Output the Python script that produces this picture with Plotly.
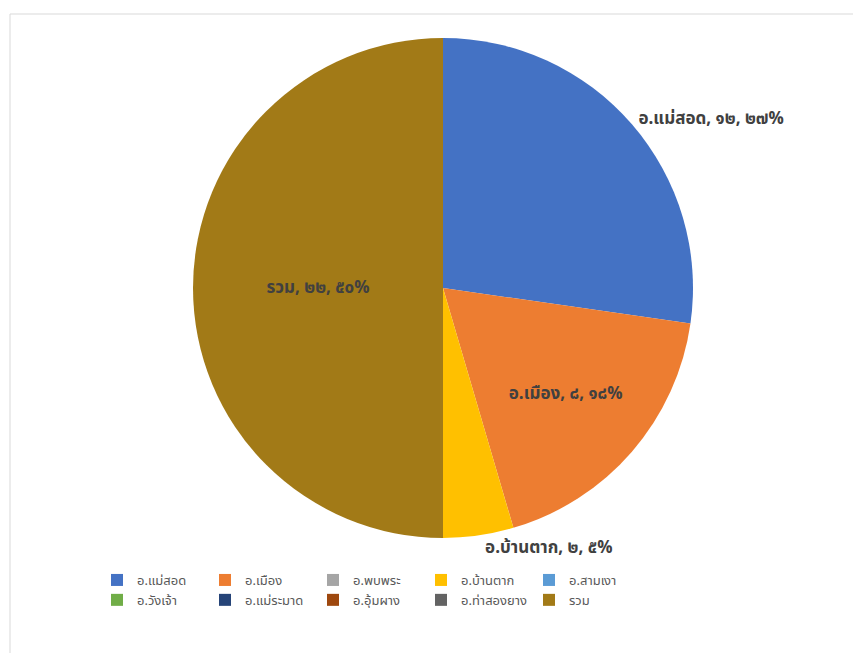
import plotly.graph_objects as go

labels = ["อ.แม่สอด", "อ.เมือง", "อ.พบพระ", "อ.บ้านตาก", "อ.สามเงา",
          "อ.วังเจ้า", "อ.แม่ระมาด", "อ.อุ้มผาง", "อ.ท่าสองยาง", "รวม"]
values = [12, 8, 0, 2, 0, 0, 0, 0, 0, 22]
colors = ["#4472C4", "#ED7D31", "#A5A5A5", "#FFC000", "#5B9BD5",
          "#70AD47", "#264478", "#9E480E", "#636363", "#A27A17"]
label_pos = ["outside", "inside", "none", "outside", "none",
             "none", "none", "none", "none", "inside"]

THAI_DIGITS = "๐๑๒๓๔๕๖๗๘๙"


def thai_num(n):
    return "".join(THAI_DIGITS[int(c)] for c in str(n))


total = sum(values)
texts = []
for lab, v in zip(labels, values):
    if v > 0:
        pct = int(v * 100 / total + 0.5)
        texts.append(f"<b>{lab}, {thai_num(v)}, {thai_num(pct)}%</b>")
    else:
        texts.append("")

W, H = 861, 653
ML, MR = 120, 141
PW = W - ML - MR
cx, cy, r = 435, 280, 250

fig = go.Figure(go.Pie(
    labels=labels,
    values=values,
    text=texts,
    textinfo="text",
    textposition=label_pos,
    insidetextorientation="horizontal",
    sort=False,
    direction="clockwise",
    rotation=0,
    marker=dict(colors=colors, line=dict(color="white", width=0)),
    textfont=dict(family="Noto Sans Thai, Noto Sans, sans-serif", size=17, color="#404040"),
    domain=dict(x=[(cx - r - ML) / PW, (cx + r - ML) / PW],
                y=[(H - (cy + r)) / H, (H - (cy - r)) / H]),
    hoverinfo="label+value+percent",
))

fig.update_layout(
    width=W, height=H,
    margin=dict(l=ML, r=MR, t=0, b=0, autoexpand=False),
    paper_bgcolor="white",
    showlegend=True,
    legend=dict(
        orientation="h",
        x=(359 - ML) / PW, xanchor="center",
        y=1 - 557 / H, yanchor="top",
        font=dict(family="Noto Sans Thai, Noto Sans, sans-serif", size=13, color="#595959"),
        entrywidth=63, entrywidthmode="pixels",
        traceorder="normal",
    ),
    shapes=[dict(type="rect", xref="paper", yref="paper",
                 x0=(2 - ML) / PW, x1=(W + 10 - ML) / PW, y0=-0.02, y1=1 - 6 / H,
                 line=dict(color="#D9D9D9", width=1), fillcolor="rgba(0,0,0,0)",
                 layer="below")],
)

fig.write_html("out.html")
